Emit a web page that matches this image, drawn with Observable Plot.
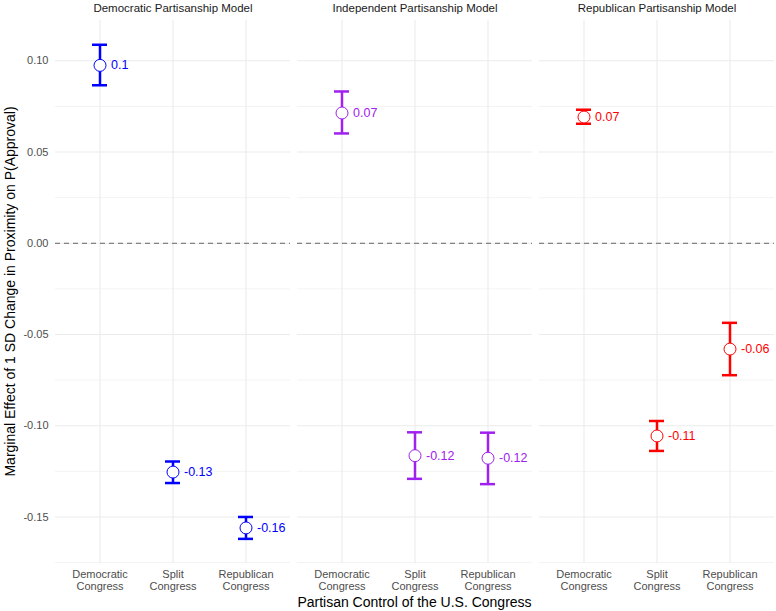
<!DOCTYPE html>
<html><head><meta charset="utf-8">
<script src="https://cdn.jsdelivr.net/npm/d3@7"></script>
<script src="https://cdn.jsdelivr.net/npm/@observablehq/plot@0.6"></script>
<style>body{margin:0;background:#fff}</style>
</head><body><div id="chart"></div>
<script>
const models = ["Democratic Partisanship Model", "Independent Partisanship Model", "Republican Partisanship Model"];
const congresses = ["Democratic Congress", "Split Congress", "Republican Congress"];
const modelColors = ["#0000ff", "#a020f0", "#ff0000"];

// estimates and 95% interval bounds, per model, ordered as congresses
const estDem = [0.0975, -0.1254, -0.1560];
const loDem  = [0.0866, -0.1314, -0.1620];
const hiDem  = [0.1088, -0.1196, -0.1500];

const estInd = [0.0714, -0.1164, -0.1178];
const loInd  = [0.0602, -0.1291, -0.1320];
const hiInd  = [0.0832, -0.1036, -0.1038];

const estRep = [0.0692, -0.1056, -0.0580];
const loRep  = [0.0655, -0.1138, -0.0723];
const hiRep  = [0.0732, -0.0974, -0.0436];

const yMajor = [-0.15, -0.10, -0.05, 0.00, 0.05, 0.10];
const yMinor = [-0.175, -0.125, -0.075, -0.025, 0.025, 0.075];

const xTitle = "Partisan Control of the U.S. Congress";
const yTitle = "Marginal Effect of 1 SD Change in Proximity on P(Approval)";

const series = [[estDem, loDem, hiDem], [estInd, loInd, hiInd], [estRep, loRep, hiRep]];
const rows = [];
models.forEach((m, i) => {
  congresses.forEach((c, j) => {
    rows.push({model: m, congress: c, est: series[i][0][j], lo: series[i][1][j], hi: series[i][2][j]});
  });
});
const fmt = v => String(Math.round(v * 100) / 100);

const W = 776, H = 611, mT = 20, mB = 48, mL = 54, mR = 1;
const chart = Plot.plot({
  width: W, height: H, marginTop: mT, marginBottom: mB, marginLeft: mL, marginRight: mR,
  style: {fontFamily: "'Liberation Sans', Arial, sans-serif", background: "#fff", overflow: "visible"},
  fx: {domain: models, paddingInner: 0.029, paddingOuter: 0, label: null},
  x: {type: "band", domain: congresses, paddingInner: 0.7966, paddingOuter: 0.4983, label: null},
  y: {domain: [-0.1755, 0.1221], label: null},
  color: {domain: models, range: modelColors},
  marks: [
    Plot.gridY(yMinor, {stroke: "#ebebeb", strokeOpacity: 1, strokeWidth: 0.6}),
    Plot.gridY(yMajor, {stroke: "#ebebeb", strokeOpacity: 1, strokeWidth: 1.1}),
    Plot.gridX({stroke: "#ebebeb", strokeOpacity: 1, strokeWidth: 1.1}),
    Plot.ruleY([0], {stroke: "#666666", strokeDasharray: "5,4", strokeWidth: 1}),
    Plot.ruleX(rows, {fx: "model", x: "congress", y1: "lo", y2: "hi", stroke: "model", strokeWidth: 2.5}),
    Plot.tickY(rows, {fx: "model", x: "congress", y: "lo", stroke: "model", strokeWidth: 2.5}),
    Plot.tickY(rows, {fx: "model", x: "congress", y: "hi", stroke: "model", strokeWidth: 2.5}),
    Plot.dot(rows, {fx: "model", x: "congress", y: "est", r: 6, fill: "white", stroke: "model", strokeWidth: 1}),
    Plot.text(rows, {fx: "model", x: "congress", y: "est", text: d => fmt(d.est), dx: 11, textAnchor: "start", fill: "model", fontSize: 12.5}),
    Plot.axisY(yMajor, {tickSize: 0, tickPadding: 7, tickFormat: d => d.toFixed(2), fontSize: 11, fill: "#4d4d4d", label: null}),
    Plot.axisX({tickSize: 0, tickPadding: 6, tickFormat: d => d.replace(" ", "\n"), lineHeight: 1.08, fontSize: 11, fill: "#4d4d4d", label: null}),
    Plot.axisFx({anchor: "top", tickSize: 0, tickPadding: 9, fontSize: 11.5, fill: "#1a1a1a", label: null})
  ]
});
const svg = d3.select(chart);
svg.append("text")
  .attr("x", mL + (W - mL - mR) / 2).attr("y", 603)
  .attr("text-anchor", "middle").attr("dominant-baseline", "middle")
  .attr("font-size", 14).attr("fill", "#000").text(xTitle);
svg.append("text")
  .attr("transform", `translate(11,${mT + (H - mT - mB) / 2}) rotate(-90)`)
  .attr("text-anchor", "middle").attr("dominant-baseline", "middle")
  .attr("font-size", 14).attr("fill", "#000").text(yTitle);
document.getElementById("chart").appendChild(chart);
</script>
</body></html>
